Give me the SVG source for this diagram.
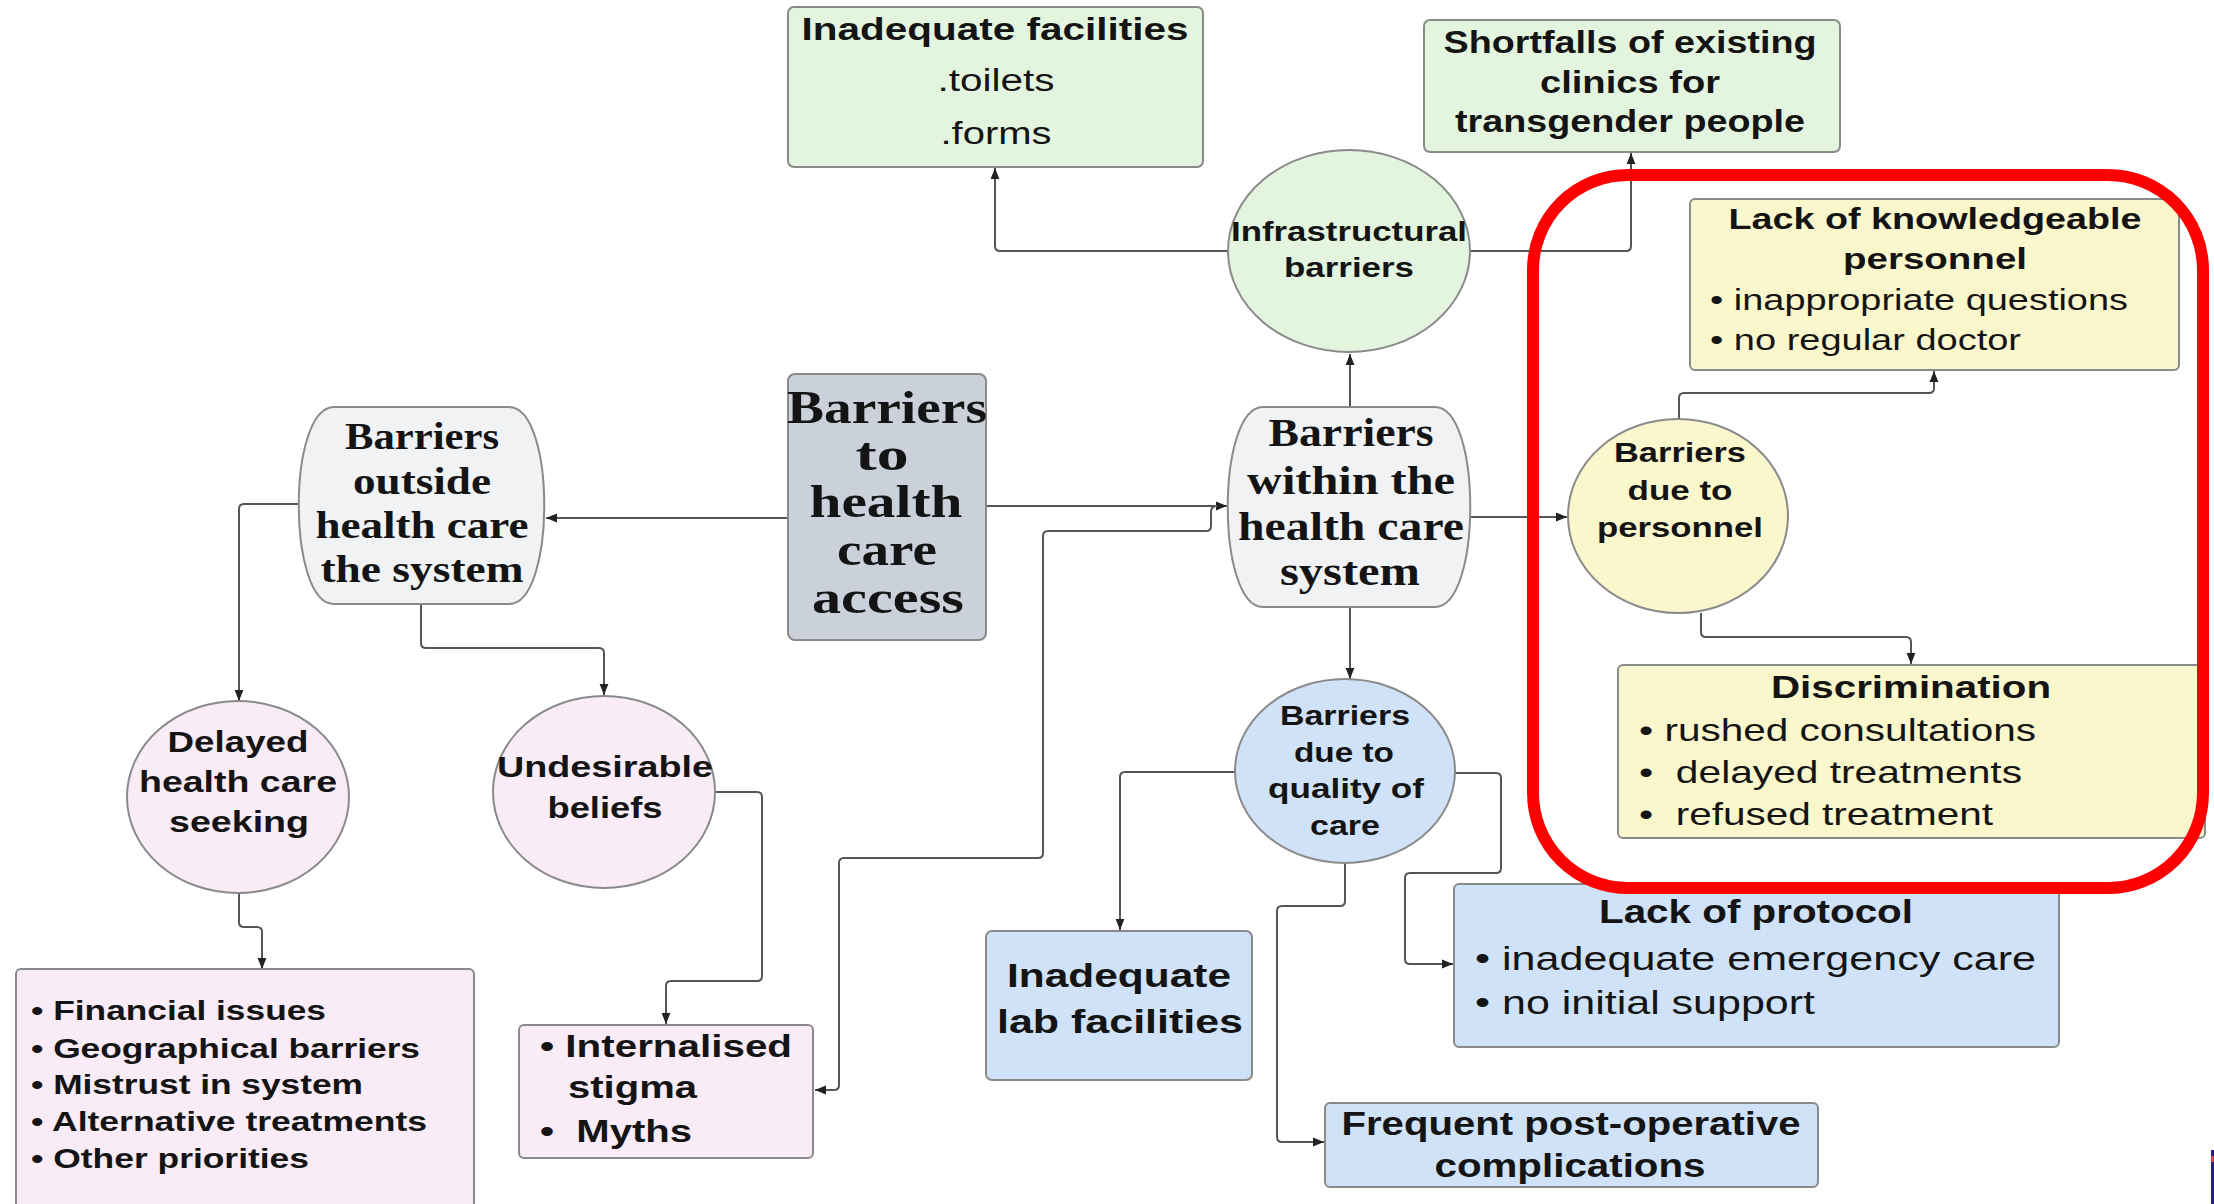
<svg xmlns="http://www.w3.org/2000/svg" width="2214" height="1204" viewBox="0 0 2214 1204">
<style>
.bg{fill:#ffffff}
.box{stroke:#8a8a8a;stroke-width:2}
.green{fill:#e3f5df}
.yellow{fill:#fbf7cd}
.pink{fill:#f9ecf7}
.blue{fill:#cfe2f7}
.grey{fill:#cbd1db}
.light{fill:#f0f2f4}
.t{font-family:"Liberation Sans",Arial,sans-serif;fill:#141414}
.b{font-weight:bold}
.sf{font-family:"Liberation Serif","Times New Roman",serif;font-weight:bold;fill:#141414}
.c{text-anchor:middle}
.ln{fill:none;stroke:#555;stroke-width:2}
.red{fill:none;stroke:#ff0000;stroke-width:12}
</style>
<defs>
<marker id="ah" viewBox="0 0 10 10" refX="10" refY="5" markerWidth="11" markerHeight="11" markerUnits="userSpaceOnUse" orient="auto"><path d="M0,1 L10,5 L0,9 z" fill="#222"/></marker>
</defs>
<rect class="bg" x="0" y="0" width="2214" height="1204"/>

<g id="connectors">
<path class="ln" marker-end="url(#ah)" d="M 787 518 H 546"/>
<path class="ln" marker-end="url(#ah)" d="M 986 506 H 1227"/>
<path class="ln" marker-end="url(#ah)" d="M 1217 506 Q 1211 506 1211 512 V 526 Q 1211 531 1206 531 H 1048 Q 1043 531 1043 536 V 853 Q 1043 858 1038 858 H 844 Q 839 858 839 863 V 1085 Q 839 1090 834 1090 H 815"/>
<path class="ln" marker-end="url(#ah)" d="M 1350 407 V 354"/>
<path class="ln" marker-end="url(#ah)" d="M 1228 251 H 1000 Q 995 251 995 246 V 168"/>
<path class="ln" marker-end="url(#ah)" d="M 1470 251 H 1626 Q 1631 251 1631 246 V 153"/>
<path class="ln" marker-end="url(#ah)" d="M 1470 517 H 1567"/>
<path class="ln" marker-end="url(#ah)" d="M 1679 419 V 398 Q 1679 393 1684 393 H 1929 Q 1934 393 1934 388 V 371"/>
<path class="ln" marker-end="url(#ah)" d="M 1701 613 V 632 Q 1701 637 1706 637 H 1906 Q 1911 637 1911 642 V 664"/>
<path class="ln" marker-end="url(#ah)" d="M 1350 607 V 679"/>
<path class="ln" marker-end="url(#ah)" d="M 1235 772 H 1125 Q 1120 772 1120 777 V 930"/>
<path class="ln" marker-end="url(#ah)" d="M 1455 773 H 1496 Q 1501 773 1501 778 V 868 Q 1501 873 1496 873 H 1410 Q 1405 873 1405 878 V 959 Q 1405 964 1410 964 H 1453"/>
<path class="ln" marker-end="url(#ah)" d="M 1345 863 V 901 Q 1345 906 1340 906 H 1282 Q 1277 906 1277 911 V 1137 Q 1277 1142 1282 1142 H 1324"/>
<path class="ln" marker-end="url(#ah)" d="M 299 504 H 244 Q 239 504 239 509 V 701"/>
<path class="ln" marker-end="url(#ah)" d="M 421 604 V 643 Q 421 648 426 648 H 599 Q 604 648 604 653 V 695"/>
<path class="ln" marker-end="url(#ah)" d="M 239 893 V 922 Q 239 927 244 927 H 257 Q 262 927 262 932 V 969"/>
<path class="ln" marker-end="url(#ah)" d="M 715 792 H 757 Q 762 792 762 797 V 976 Q 762 981 757 981 H 671 Q 666 981 666 986 V 1024"/>
</g>

<g id="inadequate-facilities">
<rect class="box green" x="788" y="7" width="415" height="160" rx="6"/>
<text class="t b c" x="995" y="40" font-size="31" textLength="387" lengthAdjust="spacingAndGlyphs">Inadequate facilities</text>
<text class="t c" x="996" y="91" font-size="31" textLength="117" lengthAdjust="spacingAndGlyphs">.toilets</text>
<text class="t c" x="996" y="144" font-size="31" textLength="111" lengthAdjust="spacingAndGlyphs">.forms</text>
</g>

<g id="shortfalls">
<rect class="box green" x="1424" y="20" width="416" height="132" rx="6"/>
<text class="t b c" x="1630" y="53" font-size="31" textLength="373" lengthAdjust="spacingAndGlyphs">Shortfalls of existing</text>
<text class="t b c" x="1630" y="93" font-size="31" textLength="180" lengthAdjust="spacingAndGlyphs">clinics for</text>
<text class="t b c" x="1630" y="132" font-size="31" textLength="350" lengthAdjust="spacingAndGlyphs">transgender people</text>
</g>

<g id="infrastructural">
<ellipse class="box green" cx="1349" cy="251" rx="121" ry="101"/>
<text class="t b c" x="1349" y="241" font-size="28" textLength="236" lengthAdjust="spacingAndGlyphs">Infrastructural</text>
<text class="t b c" x="1349" y="277" font-size="28" textLength="130" lengthAdjust="spacingAndGlyphs">barriers</text>
</g>

<g id="knowledgeable">
<rect class="box yellow" x="1690" y="199" width="489" height="171" rx="5"/>
<text class="t b c" x="1935" y="229" font-size="30" textLength="413" lengthAdjust="spacingAndGlyphs">Lack of knowledgeable</text>
<text class="t b c" x="1935" y="269" font-size="30" textLength="184" lengthAdjust="spacingAndGlyphs">personnel</text>
<text class="t" x="1710" y="310" font-size="30" textLength="418" lengthAdjust="spacingAndGlyphs">• inappropriate questions</text>
<text class="t" x="1710" y="350" font-size="30" textLength="311" lengthAdjust="spacingAndGlyphs">• no regular doctor</text>
</g>

<g id="access">
<rect class="box grey" x="788" y="374" width="198" height="266" rx="7"/>
<text class="sf c" x="887" y="423" font-size="46" textLength="200" lengthAdjust="spacingAndGlyphs">Barriers</text>
<text class="sf c" x="882" y="470" font-size="46" textLength="53" lengthAdjust="spacingAndGlyphs">to</text>
<text class="sf c" x="886" y="517" font-size="46" textLength="153" lengthAdjust="spacingAndGlyphs">health</text>
<text class="sf c" x="887" y="565" font-size="46" textLength="100" lengthAdjust="spacingAndGlyphs">care</text>
<text class="sf c" x="888" y="613" font-size="46" textLength="152" lengthAdjust="spacingAndGlyphs">access</text>
</g>

<g id="outside">
<path class="box light" d="M 334 407 H 509 C 556 407 556 604 509 604 H 334 C 287 604 287 407 334 407 Z"/>
<text class="sf c" x="422" y="449" font-size="38" textLength="154" lengthAdjust="spacingAndGlyphs">Barriers</text>
<text class="sf c" x="422" y="494" font-size="38" textLength="138" lengthAdjust="spacingAndGlyphs">outside</text>
<text class="sf c" x="422" y="538" font-size="38" textLength="213" lengthAdjust="spacingAndGlyphs">health care</text>
<text class="sf c" x="422" y="582" font-size="38" textLength="203" lengthAdjust="spacingAndGlyphs">the system</text>
</g>

<g id="within">
<path class="box light" d="M 1263 407 H 1435 C 1482 407 1482 607 1435 607 H 1263 C 1216 607 1216 407 1263 407 Z"/>
<text class="sf c" x="1351" y="446" font-size="40" textLength="165" lengthAdjust="spacingAndGlyphs">Barriers</text>
<text class="sf c" x="1351" y="494" font-size="40" textLength="208" lengthAdjust="spacingAndGlyphs">within the</text>
<text class="sf c" x="1351" y="540" font-size="40" textLength="226" lengthAdjust="spacingAndGlyphs">health care</text>
<text class="sf c" x="1350" y="585" font-size="40" textLength="140" lengthAdjust="spacingAndGlyphs">system</text>
</g>

<g id="personnel">
<ellipse class="box yellow" cx="1678" cy="516" rx="110" ry="97"/>
<text class="t b c" x="1680" y="462" font-size="28" textLength="132" lengthAdjust="spacingAndGlyphs">Barriers</text>
<text class="t b c" x="1680" y="500" font-size="28" textLength="105" lengthAdjust="spacingAndGlyphs">due to</text>
<text class="t b c" x="1680" y="537" font-size="28" textLength="166" lengthAdjust="spacingAndGlyphs">personnel</text>
</g>

<g id="discrimination">
<rect class="box yellow" x="1618" y="665" width="587" height="173" rx="5"/>
<text class="t b c" x="1911" y="698" font-size="32" textLength="280" lengthAdjust="spacingAndGlyphs">Discrimination</text>
<text class="t" x="1639" y="741" font-size="32" textLength="397" lengthAdjust="spacingAndGlyphs">• rushed consultations</text>
<text class="t" x="1639" y="783" font-size="32" textLength="383" lengthAdjust="spacingAndGlyphs">•&#160; delayed treatments</text>
<text class="t" x="1639" y="825" font-size="32" textLength="354" lengthAdjust="spacingAndGlyphs">•&#160; refused treatment</text>
</g>

<g id="quality">
<ellipse class="box blue" cx="1345" cy="771" rx="110" ry="92"/>
<text class="t b c" x="1345" y="725" font-size="28" textLength="130" lengthAdjust="spacingAndGlyphs">Barriers</text>
<text class="t b c" x="1344" y="762" font-size="28" textLength="100" lengthAdjust="spacingAndGlyphs">due to</text>
<text class="t b c" x="1346" y="798" font-size="28" textLength="156" lengthAdjust="spacingAndGlyphs">quality of</text>
<text class="t b c" x="1345" y="835" font-size="28" textLength="70" lengthAdjust="spacingAndGlyphs">care</text>
</g>

<g id="protocol">
<rect class="box blue" x="1454" y="884" width="605" height="163" rx="5"/>
<text class="t b c" x="1756" y="923" font-size="33" textLength="314" lengthAdjust="spacingAndGlyphs">Lack of protocol</text>
<text class="t" x="1475" y="970" font-size="33" textLength="561" lengthAdjust="spacingAndGlyphs">• inadequate emergency care</text>
<text class="t" x="1475" y="1014" font-size="33" textLength="340" lengthAdjust="spacingAndGlyphs">• no initial support</text>
</g>

<g id="lab">
<rect class="box blue" x="986" y="931" width="266" height="149" rx="6"/>
<text class="t b c" x="1119" y="987" font-size="34" textLength="224" lengthAdjust="spacingAndGlyphs">Inadequate</text>
<text class="t b c" x="1120" y="1033" font-size="34" textLength="246" lengthAdjust="spacingAndGlyphs">lab facilities</text>
</g>

<g id="complications">
<rect class="box blue" x="1325" y="1103" width="493" height="84" rx="5"/>
<text class="t b c" x="1571" y="1135" font-size="33" textLength="459" lengthAdjust="spacingAndGlyphs">Frequent post-operative</text>
<text class="t b c" x="1570" y="1177" font-size="33" textLength="271" lengthAdjust="spacingAndGlyphs">complications</text>
</g>

<g id="delayed">
<ellipse class="box pink" cx="238" cy="797" rx="111" ry="96"/>
<text class="t b c" x="238" y="752" font-size="29" textLength="141" lengthAdjust="spacingAndGlyphs">Delayed</text>
<text class="t b c" x="238" y="792" font-size="29" textLength="198" lengthAdjust="spacingAndGlyphs">health care</text>
<text class="t b c" x="239" y="832" font-size="29" textLength="140" lengthAdjust="spacingAndGlyphs">seeking</text>
</g>

<g id="undesirable">
<ellipse class="box pink" cx="604" cy="792" rx="111" ry="96"/>
<text class="t b c" x="605" y="777" font-size="29" textLength="216" lengthAdjust="spacingAndGlyphs">Undesirable</text>
<text class="t b c" x="605" y="818" font-size="29" textLength="115" lengthAdjust="spacingAndGlyphs">beliefs</text>
</g>

<g id="financial">
<rect class="box pink" x="16" y="969" width="458" height="250" rx="5"/>
<text class="t b" x="31" y="1020" font-size="28" textLength="295" lengthAdjust="spacingAndGlyphs">• Financial issues</text>
<text class="t b" x="31" y="1058" font-size="28" textLength="389" lengthAdjust="spacingAndGlyphs">• Geographical barriers</text>
<text class="t b" x="31" y="1094" font-size="28" textLength="332" lengthAdjust="spacingAndGlyphs">• Mistrust in system</text>
<text class="t b" x="31" y="1131" font-size="28" textLength="396" lengthAdjust="spacingAndGlyphs">• Alternative treatments</text>
<text class="t b" x="31" y="1168" font-size="28" textLength="278" lengthAdjust="spacingAndGlyphs">• Other priorities</text>
</g>

<g id="internalised">
<rect class="box pink" x="519" y="1025" width="294" height="133" rx="5"/>
<text class="t b" x="540" y="1057" font-size="32" textLength="252" lengthAdjust="spacingAndGlyphs">• Internalised</text>
<text class="t b" x="568" y="1098" font-size="32" textLength="129" lengthAdjust="spacingAndGlyphs">stigma</text>
<text class="t b" x="540" y="1142" font-size="32" textLength="152" lengthAdjust="spacingAndGlyphs">•&#160; Myths</text>
</g>

<rect x="1533" y="175" width="670" height="713" rx="95" class="red"/>
<rect x="2211" y="1150" width="3" height="54" fill="#24208a"/>
<rect x="2211" y="1156" width="3" height="6" fill="#d9404a"/>
</svg>
